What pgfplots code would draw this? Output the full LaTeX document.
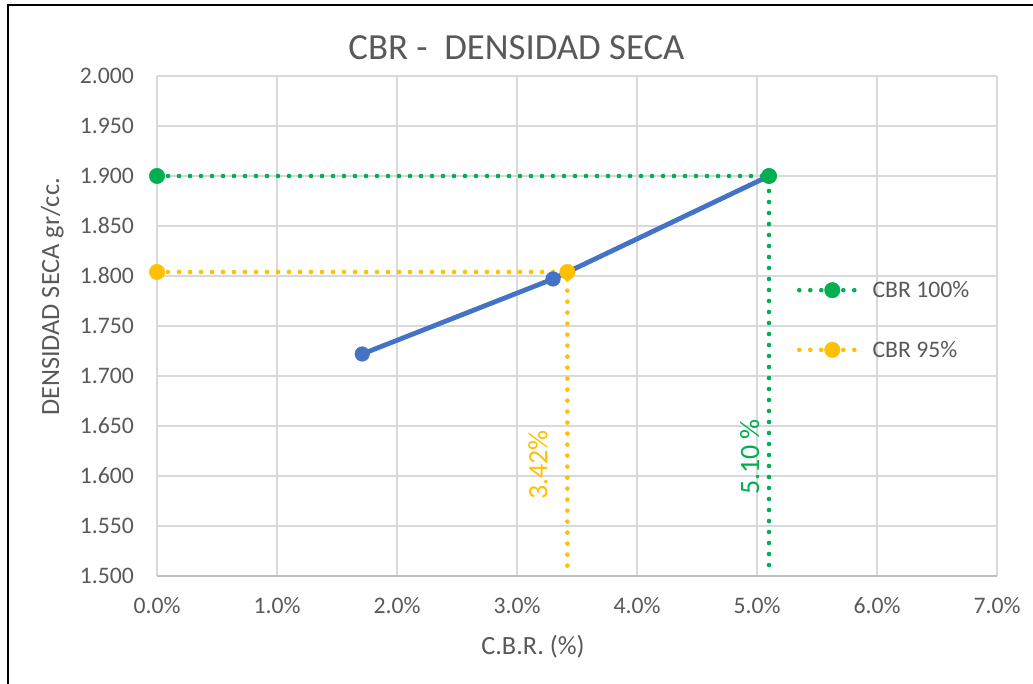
\documentclass[border=0pt]{standalone}
\usepackage{pgfplots}
\pgfplotsset{compat=1.18}
\usepackage{fontspec}
\setmainfont{Carlito}

\definecolor{txt}{HTML}{595959}
\definecolor{gridc}{HTML}{D9D9D9}
\definecolor{axc}{HTML}{BFBFBF}
\definecolor{cblue}{HTML}{4472C4}
\definecolor{cgreen}{HTML}{00B050}
\definecolor{cyellow}{HTML}{FFC000}

\newcommand{\tickfont}{\fontsize{23.7}{26}\selectfont}
\newcommand{\labfont}{\fontsize{26.3}{29}\selectfont}

\begin{document}
\begin{tikzpicture}[x=1pt,y=1pt]
\useasboundingbox (0,0) rectangle (1033,684);
% chart frame (left and top edges)
\draw[black, line width=2pt] (8,0) -- (8,679) -- (1033,679);

% title and axis titles
\node[anchor=base, text=txt, font=\fontsize{36.8}{40}\selectfont] at (516.5,624) {CBR -\ \ DENSIDAD SECA};
\node[anchor=base, text=txt, font=\labfont] at (533,29) {C.B.R. (\%)};
\node[anchor=base, rotate=90, text=txt, font=\labfont] at (59,387) {DENSIDAD SECA gr/cc.};

\begin{axis}[
  at={(157pt,108pt)}, anchor=south west,
  scale only axis, width=840pt, height=500pt,
  xmin=0, xmax=7, ymin=1.5, ymax=2.0,
  clip=false,
  xtick={0,1,2,3,4,5,6,7},
  xticklabels={0.0\%,1.0\%,2.0\%,3.0\%,4.0\%,5.0\%,6.0\%,7.0\%},
  ytick={1.5,1.55,1.6,1.65,1.7,1.75,1.8,1.85,1.9,1.95,2.0},
  yticklabels={1.500,1.550,1.600,1.650,1.700,1.750,1.800,1.850,1.900,1.950,2.000},
  grid=major,
  major grid style={gridc, line width=1.3pt},
  axis x line*=bottom, axis y line*=left,
  x axis line style={axc, line width=2pt, -},
  y axis line style={draw=none},
  major tick length=0pt, tick style={draw=none},
  xticklabel style={anchor=base, inner sep=0pt, yshift=-38pt, text=txt, font=\tickfont},
  yticklabel style={anchor=east, inner sep=0pt, xshift=-23pt, text=txt, font=\tickfont},
  legend style={at={(axis description cs:0.7619,0.512)}, anchor=west,
    draw=none, fill=none, inner sep=0pt, outer sep=0pt,
    font=\tickfont, text=txt, row sep=42pt,
    nodes={inner sep=0pt},
    /tikz/every odd column/.append style={column sep=5pt}},
  legend cell align=left,
  legend image code/.code={
    \draw[#1, mark=none] (0pt,0pt) -- (66pt,0pt);
    \draw[#1, only marks] plot coordinates {(33pt,0pt)};
  },
]
% measured curve
\addplot[cblue, line width=4.8pt, mark=*, mark size=7.3pt,
  mark options={fill=cblue, draw=cblue, line width=0.5pt}, forget plot]
  coordinates {(1.71,1.722) (3.30,1.797) (5.10,1.900)};

% CBR at 100% of max dry density
\addplot[cgreen, line width=4.6pt, line cap=round, dash pattern=on 0pt off 11pt,
  mark=*, mark size=7.7pt, mark indices={1,2},
  mark options={solid, fill=cgreen, draw=cgreen, line width=0.5pt}]
  coordinates {(0,1.900) (5.10,1.900) (5.10,1.500)};
\addlegendentry{CBR 100\%}

% CBR at 95% of max dry density
\addplot[cyellow, line width=4.6pt, line cap=round, dash pattern=on 0pt off 11pt,
  mark=*, mark size=7.7pt, mark indices={1,2},
  mark options={solid, fill=cyellow, draw=cyellow, line width=0.5pt}]
  coordinates {(0,1.804) (3.42,1.804) (3.42,1.500)};
\addlegendentry{CBR 95\%}

\node[rotate=90, text=cyellow, font=\fontsize{28}{30}\selectfont] at (axis cs:3.175,1.611) {3.42\%};
\node[rotate=90, text=cgreen, font=\fontsize{28}{30}\selectfont] at (axis cs:4.94,1.619) {5.10 \%};
\end{axis}
\end{tikzpicture}
\end{document}
